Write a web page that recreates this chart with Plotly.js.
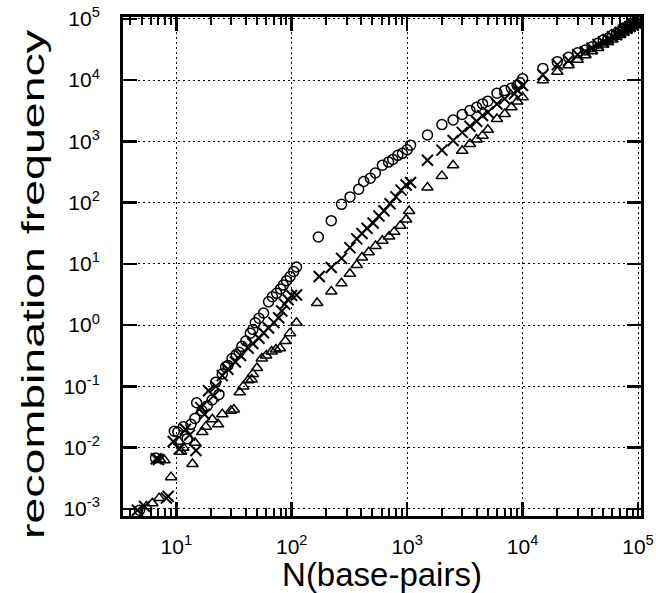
<!DOCTYPE html>
<html>
<head>
<meta charset="utf-8">
<script src="https://cdn.plot.ly/plotly-3.0.1.min.js"></script>
<style>
  html, body { margin: 0; padding: 0; background: #fff; }
  #chart { width: 656px; height: 593px; }
</style>
</head>
<body>
<div id="chart"></div>
<script>
// ---- Data ----
// Series drawn with open circles
var circleN = [4.8, 6.6, 9.6, 10.3, 11.5, 12.4, 13.4, 14.5, 15, 16.7, 18.5, 20.4, 21.9, 23.4, 25, 26.7, 28, 30.4, 33, 35, 37, 40, 43.8, 46, 48.3, 52, 57, 63, 68, 74, 80, 84.5, 90, 96.6, 104, 110,
  170, 220, 270, 320, 380, 420, 480, 530, 610, 690, 750, 830, 910, 1000, 1070,
  1500, 2000, 2500, 3000, 3500, 4000, 4500, 5000, 6000, 7000, 8000, 9000, 9500, 10000,
  15000, 20000, 25000, 30000, 35000, 40000, 45000, 50000, 55000, 60000, 65000, 70000, 75000, 80000, 85000, 90000, 95000, 100000];
var circleF = [0.00095, 0.0068, 0.0185, 0.018, 0.022, 0.014, 0.024, 0.03, 0.054, 0.04, 0.048, 0.06, 0.117, 0.074, 0.16, 0.207, 0.22, 0.285, 0.33, 0.36, 0.45, 0.55, 0.74, 0.85, 1.09, 1.3, 1.58, 2.4, 2.9, 3.3, 3.9, 4.5, 5.3, 6.2, 7.5, 8.9,
  27.4, 50.7, 93.7, 124, 165, 221, 251, 304, 409, 459, 507, 591, 638, 728, 867,
  1270, 1880, 2230, 2740, 3190, 3610, 4080, 4530, 6120, 6780, 7390, 8180, 9030, 10500,
  15500, 20000, 23500, 28000, 31000, 35000, 40000, 45000, 48000, 54000, 58000, 63000, 68000, 74000, 78000, 84000, 88000, 92000];

// Series drawn with crosses
var crossN = [4.6, 5.3, 6.7, 7.0, 8.2, 8.5, 9.4, 10.6, 12, 13, 14.8, 16.3, 17.5, 19, 21, 22, 25, 28, 32.5, 36, 42, 46, 52, 57, 63, 70, 77, 82, 87, 93, 100, 110,
  173, 220, 270, 319, 366, 406, 449, 507, 569, 630, 711, 800, 885, 980, 1070,
  1500, 2000, 2500, 3000, 3500, 4000, 4500, 5000, 6000, 7000, 8500, 9000, 10000,
  15000, 20000, 25000, 30000, 35000, 40000, 45000, 50000, 55000, 60000, 65000, 70000, 75000, 80000, 85000, 90000, 95000, 100000];
var crossF = [0.00095, 0.0011, 0.0066, 0.0064, 0.0015, 0.0016, 0.0126, 0.0095, 0.02, 0.016, 0.009, 0.045, 0.035, 0.085, 0.07, 0.1, 0.15, 0.19, 0.25, 0.32, 0.42, 0.5, 0.61, 0.75, 0.9, 1.1, 1.32, 1.7, 2.2, 2.6, 3.04, 3.1,
  6.2, 8.7, 12.3, 18.4, 25.6, 31.3, 38.1, 46.5, 60.4, 73.7, 96, 124, 160, 194, 213,
  493, 720, 1030, 1400, 1760, 2130, 2640, 2990, 4080, 4930, 5960, 6900, 8180,
  12300, 17900, 21000, 26000, 29000, 33000, 38000, 42000, 46000, 51000, 55000, 60000, 65000, 70000, 75000, 81000, 85000, 90000];

// Series drawn with open triangles
var triN = [5.5, 6.2, 7.1, 7.2, 7.9, 9, 10.6, 11, 11.5, 13.8, 14.5, 16.8, 18, 20.5, 23, 25, 29.7, 31.5, 35.4, 38, 42, 45, 46, 50, 55, 60, 67, 73, 79, 88, 96.6, 110,
  166, 220, 270, 319, 366, 406, 464, 532, 610, 697, 772, 873, 980, 1040,
  1500, 2000, 2500, 3000, 3500, 4000, 4500, 5000, 6000, 7000, 8000, 9000, 10000,
  15000, 20000, 25000, 30000, 35000, 40000, 45000, 50000, 55000, 60000, 65000, 70000, 75000, 80000, 85000, 90000, 95000, 100000];
var triF = [0.0011, 0.00124, 0.0015, 0.0064, 0.0062, 0.0033, 0.0125, 0.0086, 0.01, 0.0054, 0.012, 0.018, 0.022, 0.029, 0.024, 0.035, 0.04, 0.042, 0.08, 0.1, 0.126, 0.13, 0.16, 0.2, 0.285, 0.32, 0.37, 0.4, 0.42, 0.55, 0.74, 1.09,
  2.29, 3.53, 4.81, 6.9, 9.6, 12.7, 15.5, 19.6, 23.9, 28, 33.3, 41.8, 53, 72.8,
  176, 273, 408, 703, 903, 1070, 1240, 1550, 2320, 2800, 3610, 4480, 5260,
  9900, 13700, 17500, 21500, 25500, 29500, 33500, 38000, 42000, 46000, 51000, 55000, 60000, 65000, 70000, 76000, 81000, 86000];

// Tick labels
var xExps = [1, 2, 3, 4, 5];
var yExps = [-3, -2, -1, 0, 1, 2, 3, 4, 5];
var xTitle = 'N(base-pairs)';
var yTitle = 'recombination frequency';

function powVals(exps) { return exps.map(function (e) { return Math.pow(10, e); }); }
function powText(exps) { return exps.map(function (e) { return '10<sup>' + (e < 0 ? '-' + (-e) : e) + '</sup>'; }); }
function minorVals(lo, hi) {
  var out = [];
  for (var e = lo; e <= hi; e++) for (var d = 2; d <= 9; d++) out.push(d * Math.pow(10, e));
  return out;
}

var FONT = 'Liberation Sans, Arial, Helvetica, sans-serif';

var traces = [
  { x: circleN, y: circleF, mode: 'markers', type: 'scatter', name: 'circles',
    marker: { symbol: 'circle-open', size: 10, color: 'black', line: { width: 1.5, color: 'black' } } },
  { x: crossN, y: crossF, mode: 'markers', type: 'scatter', name: 'crosses',
    marker: { symbol: 'x-thin-open', size: 11, color: 'black', line: { width: 2, color: 'black' } } },
  { x: triN, y: triF, mode: 'markers', type: 'scatter', name: 'triangles',
    marker: { symbol: 'triangle-up-open', size: 10, color: 'black', line: { width: 1.5, color: 'black' } } }
];

var axisCommon = {
  type: 'log',
  showline: true, linecolor: 'black', linewidth: 3, mirror: 'ticks',
  ticks: 'inside', ticklen: 14, tickwidth: 2.5, tickcolor: 'black',
  showgrid: true, gridcolor: 'black', gridwidth: 1, griddash: '2px,3px',
  zeroline: false, ticklabeloverflow: 'allow',
  tickfont: { family: FONT, size: 21, color: 'black' }
};

var layout = {
  width: 656, height: 593,
  margin: { l: 123, r: 15, t: 17, b: 77 },
  paper_bgcolor: 'white', plot_bgcolor: 'white',
  showlegend: false,
  font: { family: FONT, color: 'black' },
  xaxis: Object.assign({}, axisCommon, {
    range: [0.538, 5.026],
    tickmode: 'array', tickvals: powVals(xExps), ticktext: powText(xExps),
    ticklabelstandoff: 10,
    minor: { tickmode: 'array', tickvals: minorVals(0, 4), ticks: 'inside', ticklen: 8, tickwidth: 2, tickcolor: 'black', showgrid: false },
    title: { text: xTitle, font: { family: FONT, size: 33, color: 'black' }, standoff: 6 }
  }),
  yaxis: Object.assign({}, axisCommon, {
    range: [-3.116, 5.03],
    tickmode: 'array', tickvals: powVals(yExps), ticktext: powText(yExps),
    ticklabelstandoff: 16,
    title: { text: yTitle, font: { family: FONT, size: 31, color: 'black' }, standoff: 10 }
  })
};

Plotly.newPlot('chart', traces, layout, { staticPlot: true, displayModeBar: false }).then(function (gd) {
  // The reference's y title is drawn in a tall, condensed face: stretch it along its length.
  var t = gd.querySelector('text.ytitle');
  if (!t) return;
  var x = parseFloat(t.getAttribute('x')), y = parseFloat(t.getAttribute('y'));
  var stretch = 1.5, shiftDown = 18;
  t.setAttribute('transform',
    'rotate(-90,' + x + ',' + y + ') translate(' + (-shiftDown) + ',0) translate(' + x + ',' + y + ') scale(' + stretch + ',1) translate(' + (-x) + ',' + (-y) + ')');
});
</script>
</body>
</html>
